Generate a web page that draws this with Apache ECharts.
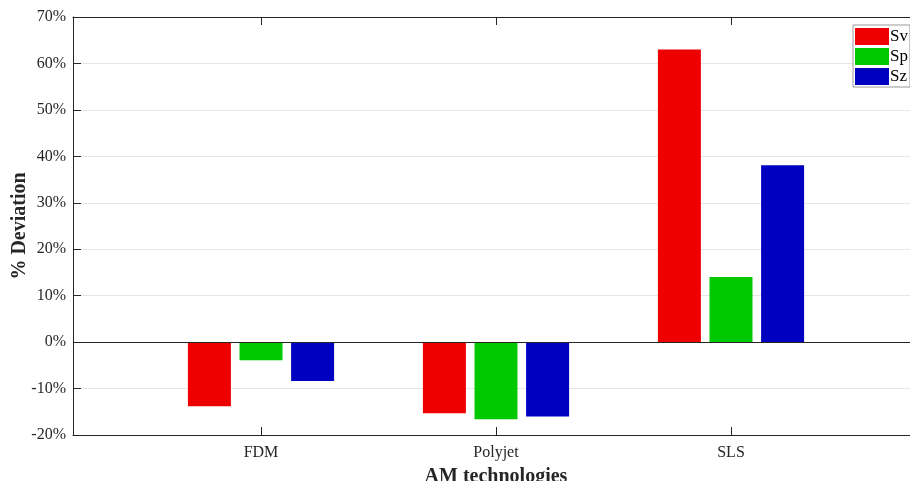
<!DOCTYPE html>
<html>
<head>
<meta charset="utf-8">
<script src="https://cdn.jsdelivr.net/npm/echarts@6/dist/echarts.min.js"></script>
<style>html,body{margin:0;padding:0;background:#fff}#c{width:910px;height:481px}</style>
</head>
<body>
<div id="c"></div>
<script>
const categories = ['FDM', 'Polyjet', 'SLS'];
const seriesNames = ['Sv', 'Sp', 'Sz'];
const Sv = [-13.8, -15.3, 63.0];
const Sp = [-3.9, -16.6, 14.0];
const Sz = [-8.4, -16.0, 38.1];
const yTicks = [-20, -10, 0, 10, 20, 30, 40, 50, 60, 70];

const colors = ['#ee0000', '#00c800', '#0000c0'];
const positions = categories.map((c, i) => i + 1);
const toData = arr => arr.map((v, i) => [positions[i], v]);
const axisColor = '#262626';
const font = 'Liberation Serif';

const chart = echarts.init(document.getElementById('c'));
chart.setOption({
  animation: false,
  textStyle: { fontFamily: font },
  grid: { left: 73, top: 17, right: -9, bottom: 46, containLabel: false, outerBoundsMode: 'none' },
  legend: {
    data: seriesNames,
    orient: 'vertical',
    left: 853, top: 25,
    icon: 'rect',
    itemWidth: 34, itemHeight: 17, itemGap: 3,
    padding: [3, 2, 2, 2],
    borderColor: '#999', borderWidth: 1,
    backgroundColor: '#fff',
    textStyle: { fontFamily: font, fontSize: 17, color: '#000', padding: [0, 0, 0, -4] }
  },
  xAxis: [{
    type: 'value', min: 0.2, max: 3.8,
    name: 'AM technologies', nameLocation: 'middle', nameGap: 32, nameMoveOverlap: false,
    nameTextStyle: { fontFamily: font, fontSize: 20, fontWeight: 'bold', color: axisColor },
    axisLine: { show: true, onZero: false, lineStyle: { color: axisColor } },
    axisTick: { show: true, inside: true, length: 8, customValues: positions, lineStyle: { color: axisColor } },
    axisLabel: { customValues: positions, formatter: v => categories[Math.round(v) - 1] || '', fontFamily: font, fontSize: 16, color: axisColor, margin: 10 },
    splitLine: { show: false }
  }, {
    type: 'value', min: 0.2, max: 3.8, position: 'top',
    axisLine: { show: true, onZero: false, lineStyle: { color: axisColor } },
    axisTick: { show: true, inside: true, length: 8, customValues: positions, lineStyle: { color: axisColor } },
    axisLabel: { show: false },
    splitLine: { show: false }
  }],
  yAxis: [{
    type: 'value', min: yTicks[0], max: yTicks[yTicks.length - 1], interval: 10,
    name: '% Deviation', nameLocation: 'middle', nameGap: 43, nameRotate: 90, nameMoveOverlap: false,
    nameTextStyle: { fontFamily: font, fontSize: 20, fontWeight: 'bold', color: axisColor },
    axisLine: { show: true, onZero: false, lineStyle: { color: axisColor } },
    axisTick: { show: true, inside: true, length: 8, lineStyle: { color: axisColor } },
    axisLabel: { formatter: '{value}%', fontFamily: font, fontSize: 16, color: axisColor, margin: 7 },
    splitLine: { show: true, lineStyle: { color: '#e6e6e6', width: 1 } }
  }],
  series: [
    { name: seriesNames[0], type: 'bar', data: toData(Sv), barWidth: 43, barGap: '20%', itemStyle: { color: colors[0] },
      markLine: { silent: true, symbol: 'none', label: { show: false }, lineStyle: { color: axisColor, type: 'solid', width: 1 }, data: [{ yAxis: 0 }] } },
    { name: seriesNames[1], type: 'bar', data: toData(Sp), barWidth: 43, barGap: '20%', itemStyle: { color: colors[1] } },
    { name: seriesNames[2], type: 'bar', data: toData(Sz), barWidth: 43, barGap: '20%', itemStyle: { color: colors[2] } }
  ]
});
</script>
</body>
</html>
